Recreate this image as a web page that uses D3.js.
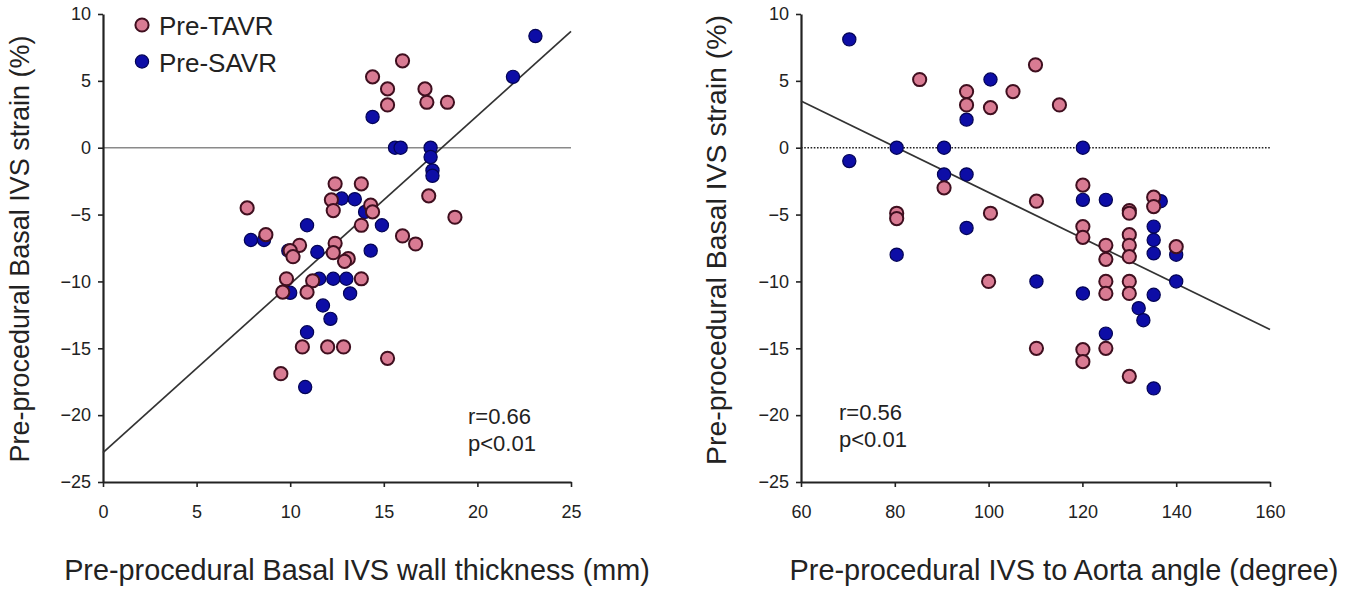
<!DOCTYPE html>
<html><head><meta charset="utf-8">
<script src="https://cdn.jsdelivr.net/npm/d3@7"></script>
<style>
html,body{margin:0;padding:0;background:#fff;}
svg{display:block;}
text{font-family:"Liberation Sans",Arial,Helvetica,sans-serif;fill:#222;}
</style></head>
<body>
<svg id="c" width="1357" height="590"></svg>
<script>
// ---- Data ----
const seriesNames = ["Pre-TAVR", "Pre-SAVR"];
// Left panel: wall thickness (mm) vs strain (%)
const leftTAVR = [[7.7,-4.5],[8.7,-6.5],[10.5,-7.3],[10.0,-7.7],[10.15,-8.15],[12.4,-2.7],[13.8,-2.7],[12.2,-3.9],[12.3,-4.7],[14.3,-4.3],[14.4,-4.8],[13.8,-5.8],[17.4,-3.6],[18.8,-5.2],[12.4,-7.15],[12.3,-7.85],[13.1,-8.3],[12.9,-8.5],[16.0,-6.6],[16.7,-7.2],[9.8,-9.8],[9.6,-10.8],[11.2,-9.95],[10.9,-10.8],[13.8,-9.8],[10.65,-14.9],[12.0,-14.9],[12.85,-14.9],[15.2,-15.75],[9.5,-16.9],[16.0,6.5],[14.4,5.3],[15.2,4.4],[15.2,3.2],[17.2,4.4],[17.3,3.4],[18.4,3.4]];
const leftSAVR = [[23.1,8.35],[21.9,5.3],[14.4,2.3],[15.6,0],[15.9,0],[17.5,0],[17.5,-0.7],[17.6,-1.7],[17.6,-2.1],[12.75,-3.8],[13.45,-3.85],[14.0,-4.8],[10.9,-5.8],[14.9,-5.8],[7.9,-6.9],[8.6,-6.9],[9.9,-7.7],[11.45,-7.8],[14.3,-7.7],[10.0,-10.85],[11.55,-9.8],[12.3,-9.8],[13.0,-9.8],[13.2,-10.9],[11.75,-11.8],[12.15,-12.8],[10.9,-13.8],[10.8,-17.9]];
const leftFit = [[0,-22.8],[25,8.7]];
const leftStats = ["r=0.66", "p<0.01"];
// Right panel: IVS-aorta angle (degree) vs strain (%)
const rightTAVR = [[85.3,5.1],[95.3,4.2],[95.3,3.2],[100.4,3.0],[105.2,4.2],[110.0,6.2],[115.1,3.2],[90.5,-3],[80.4,-4.9],[80.4,-5.3],[100.4,-4.9],[100,-10],[120.1,-2.8],[110.2,-4.0],[130,-4.7],[130,-4.9],[135.2,-3.7],[135.2,-4.4],[120.1,-5.9],[120.1,-6.7],[125,-7.3],[125,-8.35],[130,-6.5],[130,-7.3],[130,-8.15],[140,-7.4],[125,-10],[125,-10.9],[130,-10],[130,-10.9],[125,-15],[110.2,-15],[120.1,-15.1],[120.1,-16],[130,-17.1]];
const rightSAVR = [[70.3,8.1],[70.3,-1],[100.4,5.1],[95.3,2.1],[80.4,0],[90.5,0],[90.5,-2],[95.3,-2],[95.3,-6],[80.4,-8],[120.1,0],[120.1,-3.9],[125,-3.9],[136.7,-4.0],[135.2,-5.9],[135.2,-6.9],[135.2,-7.9],[140,-8.0],[110.2,-10],[120.1,-10.9],[135.2,-11],[140,-10],[132,-12],[133,-12.9],[125,-13.9],[135.2,-18]];
const rightFit = [[60,3.5],[160,-13.6]];
const rightStats = ["r=0.56", "p<0.01"];
// Axes
const yTicks = [10,5,0,-5,-10,-15,-20,-25];
const leftXTicks = [0,5,10,15,20,25];
const rightXTicks = [60,80,100,120,140,160];
const yTitle = "Pre-procedural Basal IVS strain (%)";
const leftXTitle = "Pre-procedural Basal IVS wall thickness (mm)";
const rightXTitle = "Pre-procedural IVS to Aorta angle (degree)";

// ---- Styles ----
const pinkFill = "#d97b93", pinkStroke = "#3f0f1f";
const blueFill = "#0d0da6", blueStroke = "#040455";
const R = 6.6;

const svg = d3.select("#c");
const fmt = d => d < 0 ? "\u2212" + Math.abs(d) : String(d);

function fitText(t, width, base) {
  t.style("font-size", base + "px");
  const w = t.node().getComputedTextLength();
  t.style("font-size", (base * width / w).toFixed(2) + "px");
}

function panel(opt) {
  const x = d3.scaleLinear().domain(opt.xDomain).range(opt.xRange);
  const y = d3.scaleLinear().domain([-25, 10]).range([482, 14]);
  const g = svg.append("g");

  // zero reference line
  g.append("line")
    .attr("x1", x(opt.xDomain[0])).attr("x2", x(opt.xDomain[1]))
    .attr("y1", y(0)).attr("y2", y(0))
    .attr("stroke", opt.dotted ? "#222" : "#8a8a8a")
    .attr("stroke-width", opt.dotted ? 1.5 : 1.6)
    .attr("stroke-dasharray", opt.dotted ? "1.6,1.6" : null);

  // axes
  const ya = g.append("g").attr("transform", `translate(${x(opt.xDomain[0])},0)`)
    .call(d3.axisLeft(y).tickValues(yTicks).tickFormat(fmt).tickSize(5).tickSizeOuter(0).tickPadding(7));
  const xa = g.append("g").attr("transform", `translate(0,${y(-25)})`)
    .call(d3.axisBottom(x).tickValues(opt.xTicks).tickFormat(fmt).tickSize(5).tickSizeOuter(0).tickPadding(18));
  [ya, xa].forEach(a => {
    a.select(".domain").attr("stroke", "#222").attr("stroke-width", 2.2);
    a.selectAll(".tick line").attr("stroke", "#222").attr("stroke-width", 1.6);
    a.selectAll(".tick text").style("font-size", "18px")
      .style("font-family", '"Liberation Sans",Arial,sans-serif').attr("fill", "#333");
  });

  // regression line
  g.append("line")
    .attr("x1", x(opt.fit[0][0])).attr("y1", y(opt.fit[0][1]))
    .attr("x2", x(opt.fit[1][0])).attr("y2", y(opt.fit[1][1]))
    .attr("stroke", "#333").attr("stroke-width", 1.7);

  // points (SAVR under TAVR)
  g.append("g").selectAll("circle").data(opt.savr).join("circle")
    .attr("cx", d => x(d[0])).attr("cy", d => y(d[1])).attr("r", R)
    .attr("fill", blueFill).attr("stroke", blueStroke).attr("stroke-width", 1.2);
  g.append("g").selectAll("circle").data(opt.tavr).join("circle")
    .attr("cx", d => x(d[0])).attr("cy", d => y(d[1])).attr("r", R)
    .attr("fill", pinkFill).attr("stroke", pinkStroke).attr("stroke-width", 2);

  // stats text
  opt.stats.forEach((s, i) => {
    g.append("text").attr("x", opt.statX).attr("y", opt.statY + i * 27)
      .style("font-size", "22px").attr("fill", "#333").text(s);
  });

  // titles
  const yt = g.append("text")
    .attr("transform", `translate(${opt.yTitleX},${opt.yTitleY}) rotate(-90)`)
    .attr("text-anchor", "middle").attr("fill", "#222").text(yTitle);
  fitText(yt, opt.yTitleW, 24);
  const xt = g.append("text").attr("x", opt.xTitleX).attr("y", 580)
    .attr("text-anchor", "middle").attr("fill", "#222").text(opt.xTitle);
  fitText(xt, opt.xTitleW, 24);
}

panel({xDomain:[0,25], xRange:[103,571], xTicks:leftXTicks, tavr:leftTAVR, savr:leftSAVR, fit:leftFit,
  stats:leftStats, statX:468, statY:424, dotted:false,
  yTitleX:29, yTitleY:249, yTitleW:427, xTitle:leftXTitle, xTitleX:357, xTitleW:586});
panel({xDomain:[60,160], xRange:[801,1270], xTicks:rightXTicks, tavr:rightTAVR, savr:rightSAVR, fit:rightFit,
  stats:rightStats, statX:839, statY:420, dotted:true,
  yTitleX:726, yTitleY:240, yTitleW:450, xTitle:rightXTitle, xTitleX:1064, xTitleW:549});

// legend
const leg = svg.append("g");
seriesNames.forEach((name, i) => {
  const cy = 25 + i * 36.5;
  leg.append("circle").attr("cx", 142).attr("cy", cy).attr("r", R)
    .attr("fill", i === 0 ? pinkFill : blueFill)
    .attr("stroke", i === 0 ? pinkStroke : blueStroke).attr("stroke-width", i === 0 ? 2 : 1.2);
  leg.append("text").attr("x", 159).attr("y", cy + 10).style("font-size", "26px")
    .attr("fill", "#222").text(name);
});
</script>
</body></html>
